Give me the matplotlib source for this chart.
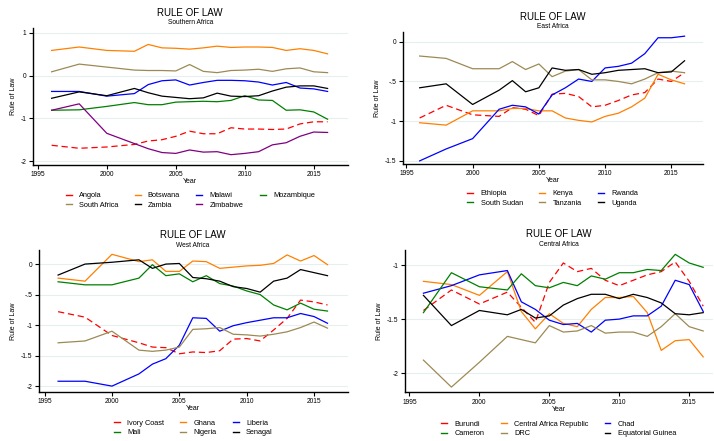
import matplotlib
matplotlib.use("Agg")
import matplotlib.pyplot as plt
from matplotlib.lines import Line2D
from matplotlib.ticker import FuncFormatter

plt.rcParams['font.family'] = ['Liberation Sans', 'DejaVu Sans']

# -----------------------
# Data
# -----------------------
years = [1996, 1998, 2000, 2002, 2003, 2004, 2005, 2006, 2007, 2008,
         2009, 2010, 2011, 2012, 2013, 2014, 2015, 2016]

# Southern Africa
angola = [-1.63, -1.70, -1.67, -1.61, -1.53, -1.50, -1.42, -1.30, -1.36, -1.36,
          -1.22, -1.25, -1.25, -1.26, -1.25, -1.13, -1.08, -1.08]
botswana = [0.59, 0.67, 0.59, 0.57, 0.73, 0.65, 0.64, 0.62, 0.65, 0.69,
            0.66, 0.67, 0.67, 0.66, 0.59, 0.63, 0.59, 0.51]
malawi = [-0.37, -0.37, -0.48, -0.42, -0.21, -0.12, -0.10, -0.22, -0.16, -0.11,
          -0.11, -0.12, -0.15, -0.22, -0.16, -0.29, -0.31, -0.37]
mozambique = [-0.81, -0.80, -0.72, -0.63, -0.68, -0.68, -0.62, -0.61, -0.60, -0.61,
              -0.58, -0.47, -0.57, -0.58, -0.81, -0.80, -0.85, -1.02]
south_africa = [0.09, 0.27, 0.20, 0.13, 0.12, 0.12, 0.11, 0.26, 0.10, 0.07,
                0.12, 0.13, 0.15, 0.10, 0.16, 0.18, 0.09, 0.07]
zambia = [-0.53, -0.38, -0.47, -0.30, -0.40, -0.48, -0.51, -0.54, -0.52, -0.41,
          -0.48, -0.49, -0.47, -0.36, -0.27, -0.24, -0.24, -0.30]
zimbabwe = [-0.81, -0.66, -1.35, -1.59, -1.71, -1.80, -1.82, -1.74, -1.79, -1.78,
            -1.85, -1.82, -1.78, -1.62, -1.57, -1.42, -1.32, -1.33]

# East Africa
ethiopia = [-0.96, -0.80, -0.92, -0.94, -0.83, -0.85, -0.93, -0.66, -0.65, -0.69,
            -0.82, -0.80, -0.74, -0.67, -0.64, -0.47, -0.50, -0.39]
kenya = [-1.02, -1.05, -0.87, -0.87, -0.84, -0.84, -0.87, -0.87, -0.96, -0.99,
         -1.01, -0.94, -0.90, -0.82, -0.71, -0.41, -0.48, -0.53]
rwanda = [-1.50, -1.35, -1.22, -0.85, -0.80, -0.82, -0.91, -0.67, -0.58, -0.47,
          -0.50, -0.33, -0.31, -0.27, -0.15, 0.05, 0.05, 0.07]
south_sudan = []  # no values drawn in the chart
tanzania = [-0.18, -0.21, -0.34, -0.34, -0.25, -0.35, -0.28, -0.44, -0.37, -0.35,
            -0.48, -0.48, -0.50, -0.53, -0.47, -0.39, -0.37, -0.39]
uganda = [-0.58, -0.53, -0.79, -0.61, -0.49, -0.63, -0.58, -0.33, -0.36, -0.35,
          -0.41, -0.39, -0.36, -0.35, -0.34, -0.39, -0.38, -0.24]

# West Africa
ivory_coast = [-0.78, -0.87, -1.17, -1.29, -1.36, -1.37, -1.47, -1.44, -1.45, -1.42,
               -1.23, -1.22, -1.26, -1.08, -0.89, -0.59, -0.62, -0.67]
ghana = [-0.23, -0.28, 0.16, 0.04, 0.07, -0.12, -0.12, 0.05, 0.04, -0.07,
         -0.05, -0.03, -0.02, 0.01, 0.15, 0.05, 0.14, -0.01]
liberia = [-1.92, -1.92, -2.00, -1.80, -1.64, -1.55, -1.33, -0.88, -0.89, -1.10,
           -1.01, -0.96, -0.92, -0.88, -0.88, -0.81, -0.86, -0.97]
mali = [-0.29, -0.34, -0.34, -0.23, -0.01, -0.19, -0.16, -0.29, -0.19, -0.32,
        -0.36, -0.44, -0.50, -0.67, -0.75, -0.64, -0.74, -0.77]
nigeria = [-1.29, -1.26, -1.10, -1.41, -1.43, -1.41, -1.36, -1.07, -1.06, -1.04,
           -1.15, -1.16, -1.18, -1.15, -1.11, -1.04, -0.95, -1.05]
senegal = [-0.18, 0.00, 0.03, 0.07, -0.07, 0.00, 0.01, -0.22, -0.24, -0.28,
           -0.37, -0.40, -0.46, -0.28, -0.23, -0.09, -0.14, -0.19]

# Central Africa
burundi = [-1.42, -1.23, -1.36, -1.25, -1.39, -1.53, -1.16, -0.98, -1.06, -1.03,
           -1.14, -1.19, -1.14, -1.09, -1.06, -0.97, -1.15, -1.38]
car = [-1.15, -1.18, -1.28, -1.06, -1.43, -1.59, -1.45, -1.54, -1.57, -1.41,
       -1.30, -1.30, -1.29, -1.44, -1.79, -1.70, -1.69, -1.85]
chad = [-1.26, -1.19, -1.09, -1.05, -1.34, -1.41, -1.51, -1.55, -1.54, -1.62,
        -1.51, -1.50, -1.47, -1.47, -1.38, -1.14, -1.18, -1.43]
cameroon = [-1.44, -1.07, -1.20, -1.23, -1.08, -1.19, -1.21, -1.16, -1.19, -1.10,
            -1.13, -1.07, -1.07, -1.04, -1.05, -0.90, -0.98, -1.02]
drc = [-1.88, -2.13, -1.90, -1.66, -1.69, -1.72, -1.56, -1.62, -1.61, -1.56,
       -1.63, -1.62, -1.62, -1.66, -1.57, -1.45, -1.57, -1.61]
eq_guinea = [-1.28, -1.56, -1.42, -1.46, -1.41, -1.49, -1.47, -1.37, -1.31, -1.27,
             -1.27, -1.31, -1.27, -1.30, -1.35, -1.45, -1.46, -1.44]

# Colores estilo Stata
RED = '#ff0000'
ORANGE = '#ff8000'
BLUE = '#0000ff'
GREEN = '#008000'
TAN = '#9c8a55'
BLACK = '#000000'
PURPLE = '#800080'


def stata_fmt(v, pos):
    s = '%g' % v
    return s.replace('0.', '.')


def panel(ax, subtitle, series, ncol, xlim, ylim, yticks, title_y, sub_y, legend_y):
    handles, labels = [], []
    for name, vals, color, ls in series:
        if ls == '--':
            ax.plot(years[:len(vals)], vals, color=color, lw=0.9, dashes=(5, 3))
        else:
            ax.plot(years[:len(vals)], vals, color=color, lw=0.9)
        # la leyenda muestra lineas cortas y solidas
        handles.append(Line2D([], [], color=color, lw=1.0))
        labels.append(name)
    ax.set_xlim(*xlim)
    ax.set_ylim(*ylim)
    ax.set_xticks([1995, 2000, 2005, 2010, 2015])
    ax.set_yticks(yticks)
    ax.yaxis.set_major_formatter(FuncFormatter(stata_fmt))
    ax.grid(axis='y', color='#e6eef0', lw=0.8)
    ax.set_axisbelow(True)
    for s in ['top', 'right']:
        ax.spines[s].set_visible(False)
    for s in ['left', 'bottom']:
        ax.spines[s].set_linewidth(1.0)
    ax.tick_params(labelsize=4.8, length=3, width=0.8, pad=1.5)
    ax.set_xlabel('Year', fontsize=5, labelpad=0)
    ax.set_ylabel('Rule of Law', fontsize=5, labelpad=3)
    ax.text(0.5, title_y, 'RULE OF LAW', transform=ax.transAxes,
            ha='center', va='center', fontsize=7)
    ax.text(0.5, sub_y, subtitle, transform=ax.transAxes,
            ha='center', va='center', fontsize=4.8)
    # ordenar la leyenda por filas
    n = len(handles)
    nrows = -(-n // ncol)
    idx = [r * ncol + c for c in range(ncol) for r in range(nrows) if r * ncol + c < n]
    ax.legend([handles[i] for i in idx], [labels[i] for i in idx], ncol=ncol,
              loc='upper center', bbox_to_anchor=(0.5, legend_y), frameon=False,
              fontsize=5.3, handlelength=0.8, handletextpad=1.0,
              columnspacing=2.2, labelspacing=0.35, borderpad=0)


fig = plt.figure(figsize=(7.14, 4.41), dpi=100)

ax1 = fig.add_axes([0.046, 0.626, 0.441, 0.311])
panel(ax1, 'Southern Africa', [
    ('Angola', angola, RED, '--'),
    ('Botswana', botswana, ORANGE, '-'),
    ('Malawi', malawi, BLUE, '-'),
    ('Mozambique', mozambique, GREEN, '-'),
    ('South Africa', south_africa, TAN, '-'),
    ('Zambia', zambia, BLACK, '-'),
    ('Zimbabwe', zimbabwe, PURPLE, '-'),
], 4, (1994.64, 2017.46), (-2.09, 1.12), [-2, -1, 0, 1], 1.11, 1.036, -0.17)

ax2 = fig.add_axes([0.564, 0.628, 0.420, 0.299])
panel(ax2, 'East Africa', [
    ('Ethiopia', ethiopia, RED, '--'),
    ('Kenya', kenya, ORANGE, '-'),
    ('Rwanda', rwanda, BLUE, '-'),
    ('South Sudan', south_sudan, GREEN, '-'),
    ('Tanzania', tanzania, TAN, '-'),
    ('Uganda', uganda, BLACK, '-'),
], 3, (1994.72, 2017.36), (-1.54, 0.12), [-1.5, -1, -0.5, 0], 1.116, 1.04, -0.17)

ax3 = fig.add_axes([0.054, 0.112, 0.433, 0.321])
panel(ax3, 'West Africa', [
    ('Ivory Coast', ivory_coast, RED, '--'),
    ('Ghana', ghana, ORANGE, '-'),
    ('Liberia', liberia, BLUE, '-'),
    ('Mali', mali, GREEN, '-'),
    ('Nigeria', nigeria, TAN, '-'),
    ('Senagal', senegal, BLACK, '-'),
], 3, (1994.55, 2017.5), (-2.09, 0.23), [-2, -1.5, -1, -0.5, 0], 1.106, 1.035, -0.17)

ax4 = fig.add_axes([0.567, 0.110, 0.431, 0.323])
panel(ax4, 'Central Africa', [
    ('Burundi', burundi, RED, '--'),
    ('Central Africa Republic', car, ORANGE, '-'),
    ('Chad', chad, BLUE, '-'),
    ('Cameron', cameroon, GREEN, '-'),
    ('DRC', drc, TAN, '-'),
    ('Equatorial Guinea', eq_guinea, BLACK, '-'),
], 3, (1994.67, 2016.67), (-2.18, -0.86), [-2, -1.5, -1], 1.112, 1.04, -0.17)

plt.savefig('out.png', dpi=100)
